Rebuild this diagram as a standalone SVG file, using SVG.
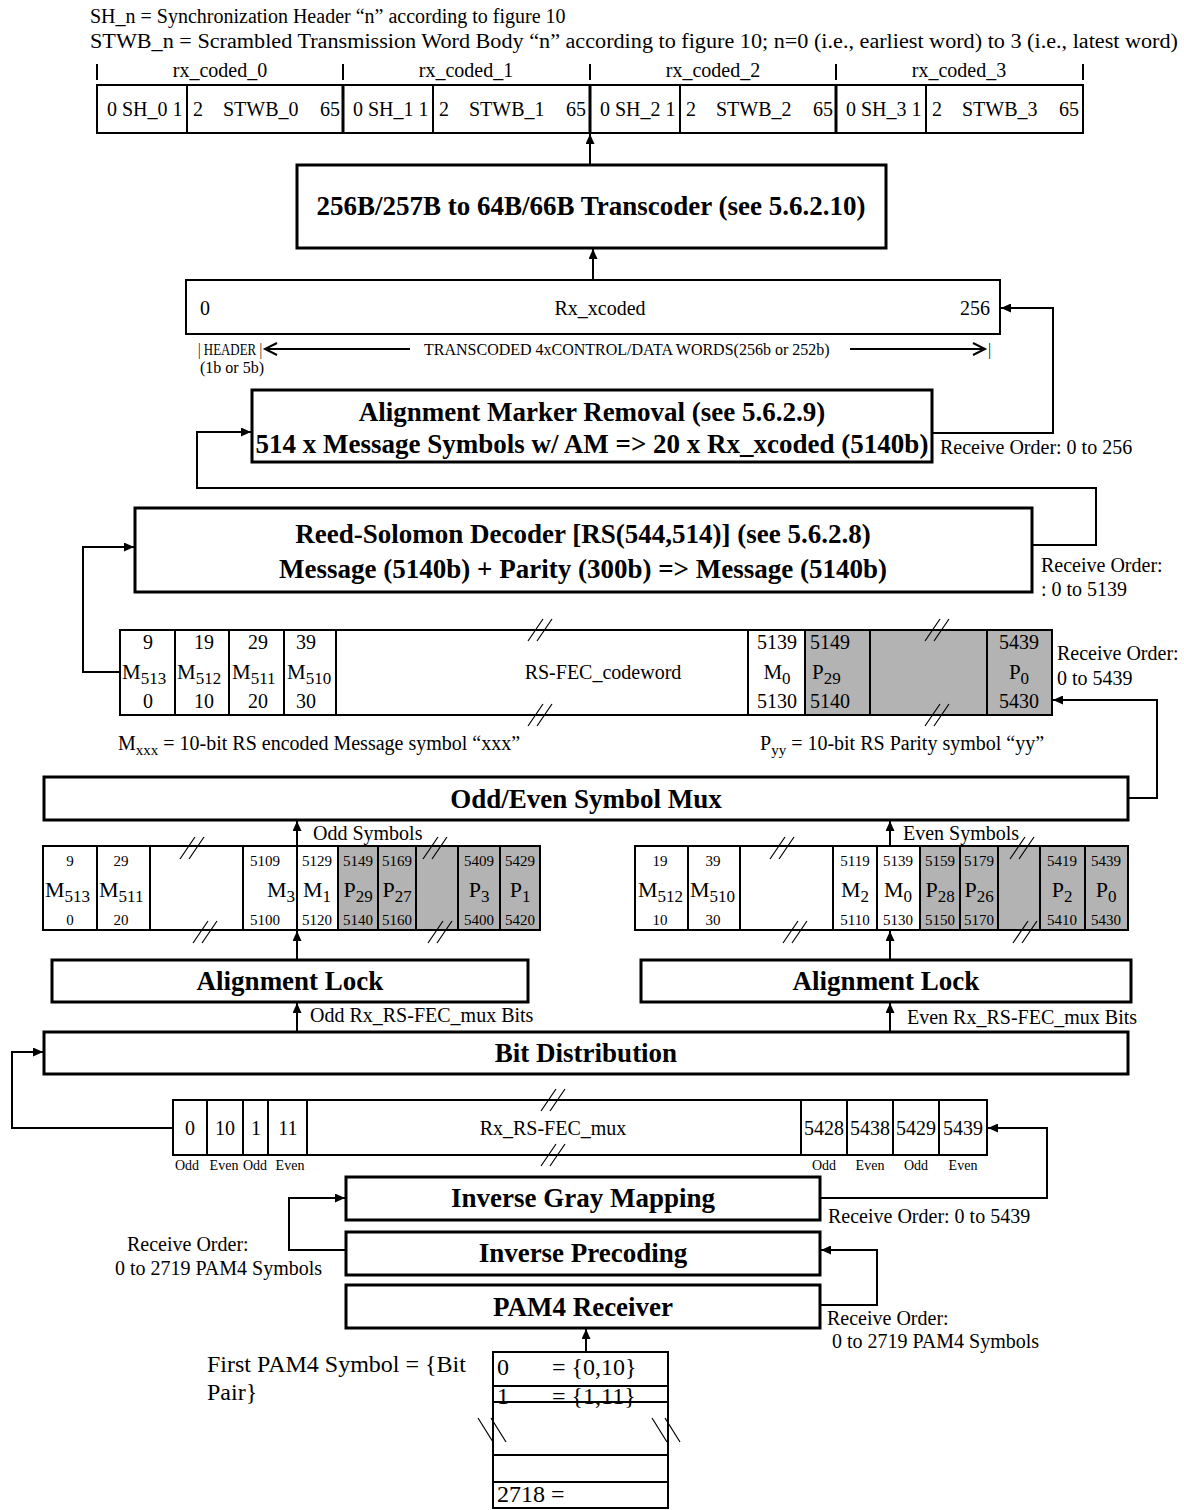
<svg xmlns="http://www.w3.org/2000/svg" width="1184" height="1510" viewBox="0 0 1184 1510">
<style>
text{font-family:"Liberation Serif","Times New Roman",serif;font-size:20px;fill:#000}
.b{font-weight:bold;font-size:27px}
.s{font-size:15px}
.xs{font-size:14px}
.hl{font-size:16px}
.big{font-size:24px}
.m{font-size:21px}
.mm{font-size:22px}
.sub{font-size:17px}
.c{text-anchor:middle}
.e{text-anchor:end}
.box{fill:#fff;stroke:#000;stroke-width:3}
.cell{fill:none;stroke:#000;stroke-width:2}
.ln{stroke:#000;stroke-width:2;fill:none}
.gray{fill:#b3b3b3;stroke:none}
.conn{fill:none;stroke:#000;stroke-width:2}
.brk{stroke:#000;stroke-width:1.2;fill:none}
</style>
<defs>
<marker id="ah" markerUnits="userSpaceOnUse" markerWidth="11" markerHeight="9" refX="10" refY="4.5" orient="auto">
<path d="M0,0 L10,4.5 L0,9 z" fill="#000"/>
</marker>
<g id="brk"><path class="brk" d="M-12,11 L3,-11 M-3,11 L12,-11"/></g>
<g id="brkb"><path class="brk" d="M-15,-12 L0,12 M-2,-12 L13,12"/></g>
</defs>

<g id="header">
<text x="90" y="23">SH_n = Synchronization Header “n” according to figure 10</text>
<text x="90" y="48" textLength="1088" lengthAdjust="spacingAndGlyphs">STWB_n = Scrambled Transmission Word Body “n” according to figure 10; n=0 (i.e., earliest word) to 3 (i.e., latest word)</text>
</g>

<g id="rx-coded-row">
<path class="ln" d="M97,64 V80 M343,64 V80 M590,64 V80 M836,64 V80 M1083,64 V80"/>
<text class="c" x="220" y="77">rx_coded_0</text>
<text class="c" x="466" y="77">rx_coded_1</text>
<text class="c" x="713" y="77">rx_coded_2</text>
<text class="c" x="959" y="77">rx_coded_3</text>
<rect class="cell" x="97" y="85" width="986" height="48"/>
<path class="ln" d="M187,85 V133 M433,85 V133 M680,85 V133 M926,85 V133"/>
<path d="M343,85 V133 M590,85 V133 M836,85 V133" stroke="#000" stroke-width="3"/>
<text x="107" y="116">0 SH_0 1</text><text x="193" y="116">2</text><text x="223" y="116">STWB_0</text><text class="e" x="340" y="116">65</text>
<text x="353" y="116">0 SH_1 1</text><text x="439" y="116">2</text><text x="469" y="116">STWB_1</text><text class="e" x="586" y="116">65</text>
<text x="600" y="116">0 SH_2 1</text><text x="686" y="116">2</text><text x="716" y="116">STWB_2</text><text class="e" x="833" y="116">65</text>
<text x="846" y="116">0 SH_3 1</text><text x="932" y="116">2</text><text x="962" y="116">STWB_3</text><text class="e" x="1079" y="116">65</text>
</g>

<g id="transcoder">
<rect class="box" x="297" y="165" width="589" height="83"/>
<text class="b c" x="591" y="215">256B/257B to 64B/66B Transcoder (see 5.6.2.10)</text>
</g>

<g id="rx-xcoded">
<rect class="cell" x="186" y="280" width="814" height="54"/>
<text x="200" y="315">0</text>
<text class="c" x="600" y="315">Rx_xcoded</text>
<text class="e" x="990" y="315">256</text>
<text class="hl" x="198" y="355" textLength="64" lengthAdjust="spacingAndGlyphs">| HEADER |</text>
<text class="hl" x="200" y="373">(1b or 5b)</text>
<text class="hl" x="424" y="355">TRANSCODED 4xCONTROL/DATA WORDS(256b or 252b)</text>
<text class="hl" x="988" y="355">|</text>
<path class="ln" d="M265,349 H410 M277,343 L265,349 L277,355" stroke-width="1.5"/>
<path class="ln" d="M850,349 H985 M973,343 L985,349 L973,355" stroke-width="1.5"/>
</g>

<g id="am-removal">
<rect class="box" x="252" y="390" width="680" height="72"/>
<text class="b c" x="592" y="421">Alignment Marker Removal (see 5.6.2.9)</text>
<text class="b c" x="592" y="453">514 x Message Symbols w/ AM =&gt; 20 x Rx_xcoded (5140b)</text>
<text x="940" y="454">Receive Order: 0 to 256</text>
</g>

<g id="rs-decoder">
<rect class="box" x="135" y="508" width="897" height="84"/>
<text class="b c" x="583" y="543">Reed-Solomon Decoder [RS(544,514)] (see 5.6.2.8)</text>
<text class="b c" x="583" y="578">Message (5140b) + Parity (300b) =&gt; Message (5140b)</text>
<text x="1041" y="572">Receive Order:</text>
<text x="1041" y="596">: 0 to 5139</text>
</g>

<g id="codeword">
<rect class="gray" x="805" y="630" width="247" height="85"/>
<rect class="cell" x="120" y="630" width="932" height="85"/>
<path class="ln" d="M175,630 V715 M229,630 V715 M284,630 V715 M336,630 V715 M748,630 V715 M805,630 V715 M870,630 V715 M987,630 V715"/>
<text class="c" x="148" y="649">9</text><text class="c" x="204" y="649">19</text><text class="c" x="258" y="649">29</text><text class="c" x="306" y="649">39</text>
<text class="m" x="122" y="679">M<tspan class="sub" dy="5">513</tspan></text>
<text class="m" x="177" y="679">M<tspan class="sub" dy="5">512</tspan></text>
<text class="m" x="232" y="679">M<tspan class="sub" dy="5">511</tspan></text>
<text class="m" x="287" y="679">M<tspan class="sub" dy="5">510</tspan></text>
<text class="c" x="148" y="708">0</text><text class="c" x="204" y="708">10</text><text class="c" x="258" y="708">20</text><text class="c" x="306" y="708">30</text>
<text class="c" x="603" y="679">RS-FEC_codeword</text>
<text class="c" x="777" y="649">5139</text><text class="m c" x="777" y="679">M<tspan class="sub" dy="5">0</tspan></text><text class="c" x="777" y="708">5130</text>
<text x="810" y="649">5149</text><text class="m" x="812" y="679">P<tspan class="sub" dy="5">29</tspan></text><text x="810" y="708">5140</text>
<text class="c" x="1019" y="649">5439</text><text class="m c" x="1019" y="679">P<tspan class="sub" dy="5">0</tspan></text><text class="c" x="1019" y="708">5430</text>
<use href="#brk" x="540" y="630"/><use href="#brk" x="540" y="715"/>
<use href="#brk" x="937" y="630"/><use href="#brk" x="937" y="715"/>
<text x="1057" y="660">Receive Order:</text>
<text x="1057" y="685"> 0 to 5439</text>
</g>

<g id="legend">
<text x="118" y="750">M<tspan class="s" dy="5">xxx</tspan><tspan dy="-5"> = 10-bit RS encoded Message symbol “xxx”</tspan></text>
<text x="760" y="750">P<tspan class="s" dy="5">yy</tspan><tspan dy="-5"> = 10-bit RS Parity symbol “yy”</tspan></text>
</g>

<g id="symbol-mux">
<rect class="box" x="44" y="777" width="1084" height="43"/>
<text class="b c" x="586" y="808">Odd/Even Symbol Mux</text>
<text x="313" y="840">Odd Symbols</text>
<text x="903" y="840">Even Symbols</text>
</g>

<g id="odd-row">
<rect class="gray" x="338" y="846" width="202" height="84"/>
<rect class="cell" x="43" y="846" width="497" height="84"/>
<path class="ln" d="M97,846 V930 M150,846 V930 M243,846 V930 M297,846 V930 M338,846 V930 M378,846 V930 M416,846 V930 M458,846 V930 M500,846 V930"/>
<text class="s c" x="70" y="866">9</text><text class="mm" x="45" y="897">M<tspan class="sub" dy="5">513</tspan></text><text class="s c" x="70" y="925">0</text>
<text class="s c" x="121" y="866">29</text><text class="mm" x="99" y="897">M<tspan class="sub" dy="5">511</tspan></text><text class="s c" x="121" y="925">20</text>
<text class="s c" x="265" y="866">5109</text><text class="mm e" x="295" y="897">M<tspan class="sub" dy="5">3</tspan></text><text class="s c" x="265" y="925">5100</text>
<text class="s c" x="317" y="866">5129</text><text class="mm c" x="317" y="897">M<tspan class="sub" dy="5">1</tspan></text><text class="s c" x="317" y="925">5120</text>
<text class="s c" x="358" y="866">5149</text><text class="mm c" x="358" y="897">P<tspan class="sub" dy="5">29</tspan></text><text class="s c" x="358" y="925">5140</text>
<text class="s c" x="397" y="866">5169</text><text class="mm c" x="397" y="897">P<tspan class="sub" dy="5">27</tspan></text><text class="s c" x="397" y="925">5160</text>
<text class="s c" x="479" y="866">5409</text><text class="mm c" x="479" y="897">P<tspan class="sub" dy="5">3</tspan></text><text class="s c" x="479" y="925">5400</text>
<text class="s c" x="520" y="866">5429</text><text class="mm c" x="520" y="897">P<tspan class="sub" dy="5">1</tspan></text><text class="s c" x="520" y="925">5420</text>
<use href="#brk" x="192" y="848"/><use href="#brk" x="205" y="932"/>
<use href="#brk" x="435" y="848"/><use href="#brk" x="440" y="932"/>
</g>

<g id="even-row">
<rect class="gray" x="920" y="846" width="208" height="84"/>
<rect class="cell" x="635" y="846" width="493" height="84"/>
<path class="ln" d="M688,846 V930 M740,846 V930 M833,846 V930 M877,846 V930 M920,846 V930 M960,846 V930 M998,846 V930 M1040,846 V930 M1085,846 V930"/>
<text class="s c" x="660" y="866">19</text><text class="mm" x="638" y="897">M<tspan class="sub" dy="5">512</tspan></text><text class="s c" x="660" y="925">10</text>
<text class="s c" x="713" y="866">39</text><text class="mm" x="690" y="897">M<tspan class="sub" dy="5">510</tspan></text><text class="s c" x="713" y="925">30</text>
<text class="s c" x="855" y="866">5119</text><text class="mm c" x="855" y="897">M<tspan class="sub" dy="5">2</tspan></text><text class="s c" x="855" y="925">5110</text>
<text class="s c" x="898" y="866">5139</text><text class="mm c" x="898" y="897">M<tspan class="sub" dy="5">0</tspan></text><text class="s c" x="898" y="925">5130</text>
<text class="s c" x="940" y="866">5159</text><text class="mm c" x="940" y="897">P<tspan class="sub" dy="5">28</tspan></text><text class="s c" x="940" y="925">5150</text>
<text class="s c" x="979" y="866">5179</text><text class="mm c" x="979" y="897">P<tspan class="sub" dy="5">26</tspan></text><text class="s c" x="979" y="925">5170</text>
<text class="s c" x="1062" y="866">5419</text><text class="mm c" x="1062" y="897">P<tspan class="sub" dy="5">2</tspan></text><text class="s c" x="1062" y="925">5410</text>
<text class="s c" x="1106" y="866">5439</text><text class="mm c" x="1106" y="897">P<tspan class="sub" dy="5">0</tspan></text><text class="s c" x="1106" y="925">5430</text>
<use href="#brk" x="782" y="848"/><use href="#brk" x="795" y="932"/>
<use href="#brk" x="1022" y="848"/><use href="#brk" x="1025" y="932"/>
</g>

<g id="align-lock-odd">
<rect class="box" x="52" y="960" width="476" height="42"/>
<text class="b c" x="290" y="990">Alignment Lock</text>
</g>
<g id="align-lock-even">
<rect class="box" x="641" y="960" width="490" height="42"/>
<text class="b c" x="886" y="990">Alignment Lock</text>
</g>

<g id="bit-distribution">
<rect class="box" x="44" y="1032" width="1084" height="42"/>
<text class="b c" x="586" y="1062">Bit Distribution</text>
<text x="310" y="1022">Odd Rx_RS-FEC_mux Bits</text>
<text x="907" y="1024">Even Rx_RS-FEC_mux Bits</text>
</g>

<g id="rx-rs-fec-mux">
<rect class="cell" x="173" y="1100" width="814" height="55"/>
<path class="ln" d="M207,1100 V1155 M243,1100 V1155 M268,1100 V1155 M307,1100 V1155 M801,1100 V1155 M847,1100 V1155 M893,1100 V1155 M939,1100 V1155"/>
<text class="c" x="190" y="1135">0</text><text class="c" x="225" y="1135">10</text><text class="c" x="256" y="1135">1</text><text class="c" x="288" y="1135">11</text>
<text class="c" x="553" y="1135">Rx_RS-FEC_mux</text>
<text class="c" x="824" y="1135">5428</text><text class="c" x="870" y="1135">5438</text><text class="c" x="916" y="1135">5429</text><text class="c" x="963" y="1135">5439</text>
<use href="#brk" x="553" y="1100"/><use href="#brk" x="553" y="1155"/>
<text class="xs c" x="187" y="1170">Odd</text><text class="xs c" x="224" y="1170">Even</text><text class="xs c" x="255" y="1170">Odd</text><text class="xs c" x="290" y="1170">Even</text>
<text class="xs c" x="824" y="1170">Odd</text><text class="xs c" x="870" y="1170">Even</text><text class="xs c" x="916" y="1170">Odd</text><text class="xs c" x="963" y="1170">Even</text>
</g>

<g id="inverse-gray-mapping">
<rect class="box" x="346" y="1177" width="474" height="43"/>
<text class="b c" x="583" y="1207">Inverse Gray Mapping</text>
<text x="828" y="1223">Receive Order: 0 to 5439</text>
</g>

<g id="inverse-precoding">
<rect class="box" x="346" y="1232" width="474" height="43"/>
<text class="b c" x="583" y="1262">Inverse Precoding</text>
<text x="127" y="1251">Receive Order:</text>
<text x="115" y="1275">0 to 2719 PAM4 Symbols</text>
</g>

<g id="pam4-receiver">
<rect class="box" x="346" y="1285" width="474" height="43"/>
<text class="b c" x="583" y="1316">PAM4 Receiver</text>
<text x="827" y="1325">Receive Order:</text>
<text x="832" y="1348">0 to 2719 PAM4 Symbols</text>
</g>

<g id="pam4-table">
<text class="big" x="207" y="1372">First PAM4 Symbol = {Bit</text>
<text class="big" x="207" y="1400">Pair}</text>
<rect class="cell" x="493" y="1352" width="175" height="156"/>
<path class="ln" d="M493,1386 H668 M493,1402 H668 M493,1455 H668 M493,1482 H668"/>
<text class="big" x="497" y="1375">0</text><text class="big" x="552" y="1375">= {0,10}</text>
<text class="big" x="497" y="1404">1</text><text class="big" x="552" y="1404">= {1,11}</text>
<text class="big" x="497" y="1502">2718 =</text>
<use href="#brkb" x="493" y="1430"/><use href="#brkb" x="667" y="1430"/>
</g>

<g id="connectors">
<path class="conn" marker-end="url(#ah)" d="M590,165 V134"/>
<path class="conn" marker-end="url(#ah)" d="M593,280 V249"/>
<path class="conn" marker-end="url(#ah)" d="M932,433 H1053 V308 H1001"/>
<path class="conn" marker-end="url(#ah)" d="M1032,545 H1096 V488 H197 V432 H251"/>
<path class="conn" marker-end="url(#ah)" d="M120,672 H83 V547 H134"/>
<path class="conn" marker-end="url(#ah)" d="M1128,798 H1157 V700 H1053"/>
<path class="conn" marker-end="url(#ah)" d="M297,846 V821"/>
<path class="conn" marker-end="url(#ah)" d="M890,846 V821"/>
<path class="conn" marker-end="url(#ah)" d="M297,960 V931"/>
<path class="conn" marker-end="url(#ah)" d="M890,960 V931"/>
<path class="conn" marker-end="url(#ah)" d="M297,1032 V1003"/>
<path class="conn" marker-end="url(#ah)" d="M890,1032 V1003"/>
<path class="conn" marker-end="url(#ah)" d="M173,1128 H12 V1052 H43"/>
<path class="conn" marker-end="url(#ah)" d="M820,1198 H1047 V1128 H988"/>
<path class="conn" marker-end="url(#ah)" d="M346,1250 H289 V1198 H345"/>
<path class="conn" marker-end="url(#ah)" d="M820,1305 H877 V1250 H821"/>
<path class="conn" marker-end="url(#ah)" d="M586,1352 V1329"/>
</g>
</svg>
